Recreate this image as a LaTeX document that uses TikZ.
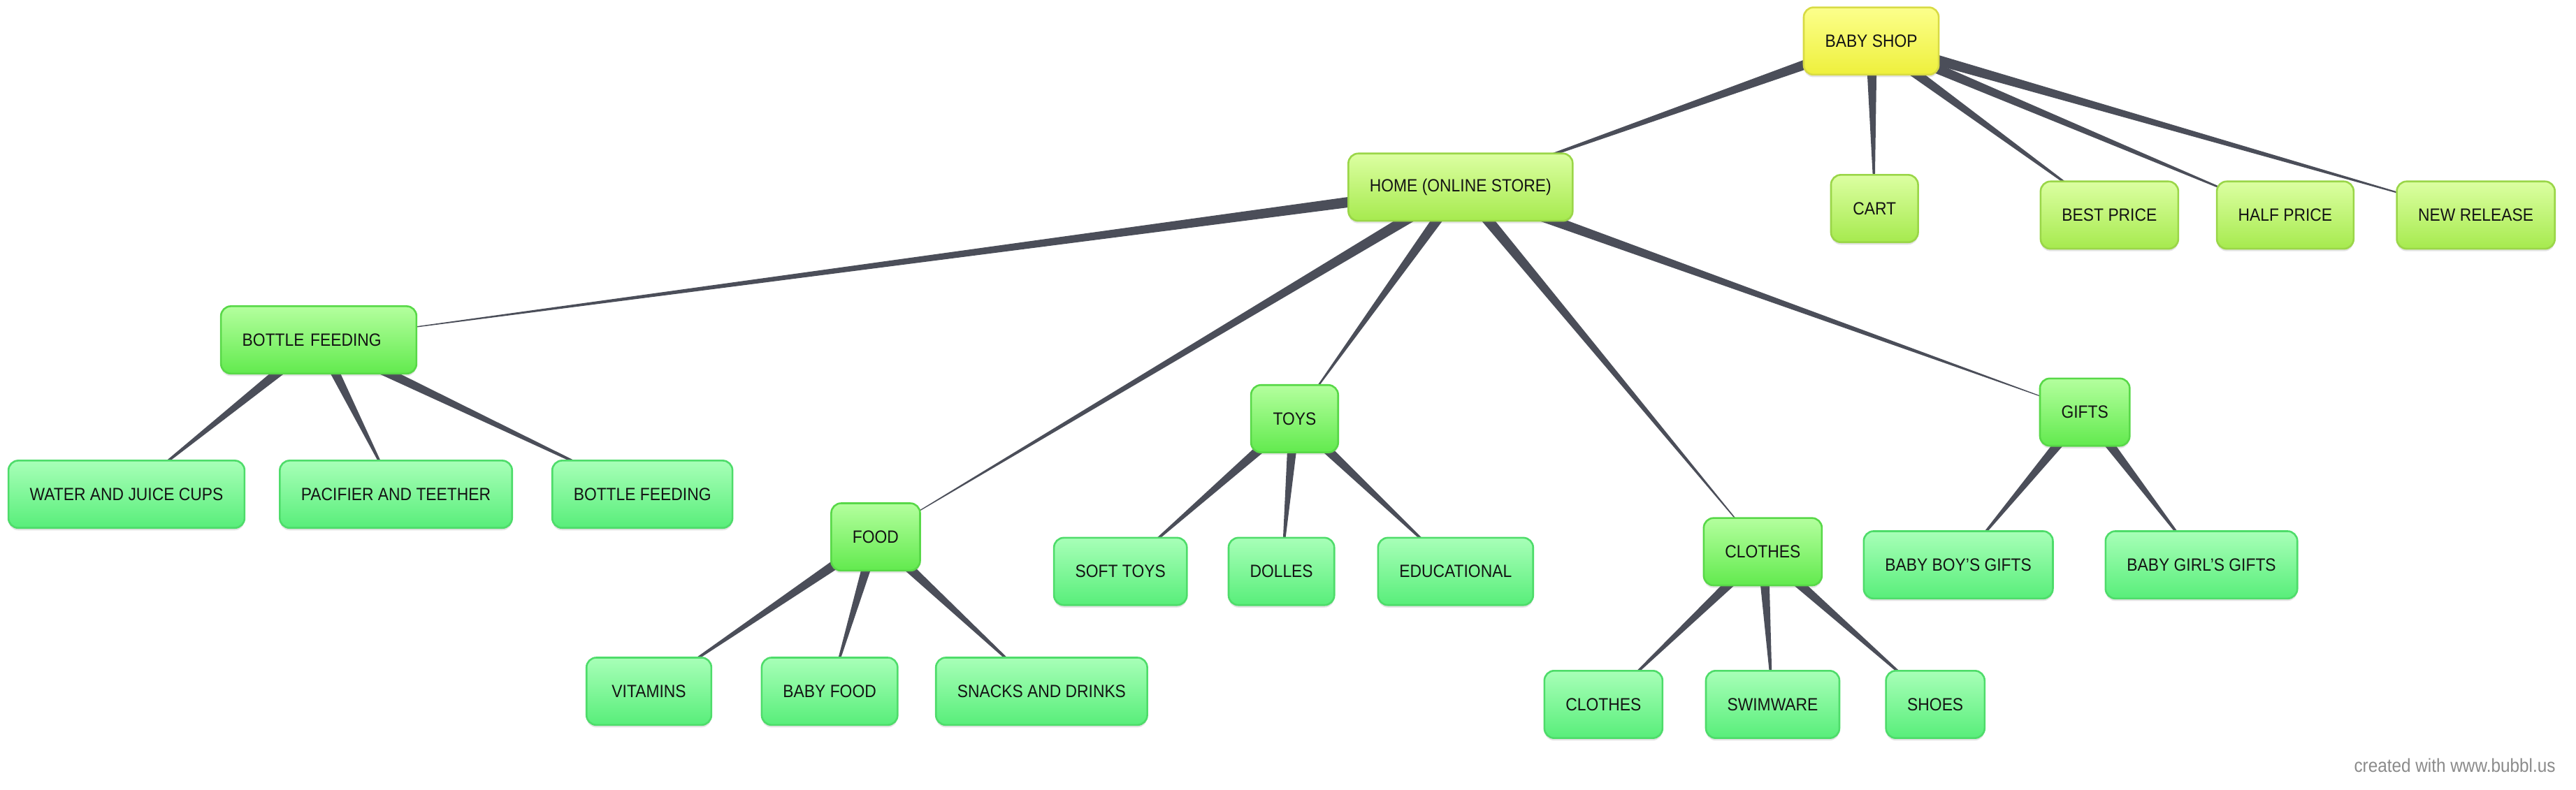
\documentclass[tikz,border=0pt]{standalone}
\usepackage{fontspec}
\setmainfont{Liberation Sans}[FakeStretch=0.9]
\usetikzlibrary{calc,backgrounds,shadows}

\definecolor{jauneHaut}{HTML}{FCFF8C}
\definecolor{jauneBas}{HTML}{EEF03C}
\definecolor{jauneBord}{HTML}{D8DB44}
\definecolor{citronHaut}{HTML}{DCFFA2}
\definecolor{citronBas}{HTML}{A6EA4E}
\definecolor{citronBord}{HTML}{9AD648}
\definecolor{vertHaut}{HTML}{B4FF9E}
\definecolor{vertBas}{HTML}{62EA4E}
\definecolor{vertBord}{HTML}{58D848}
\definecolor{mentheHaut}{HTML}{A8FFB8}
\definecolor{mentheBas}{HTML}{58EE7A}
\definecolor{mentheBord}{HTML}{4EDC6A}
\definecolor{ardoise}{HTML}{4B4E59}
\definecolor{signature}{HTML}{8A8A8A}

\begin{document}
\begin{tikzpicture}[x=1pt, y=-1pt]
	\tikzset{boite/.style={rectangle, rounded corners=6pt, line width=1.1pt, minimum height=41pt, minimum width=53pt, inner xsep=13pt, font=\fontsize{10.8}{12}\selectfont, text=black!92, drop shadow={shadow xshift=0pt, shadow yshift=-1.5pt, opacity=0.18, fill=black!60}},
		racine/.style={boite, draw=jauneBord, top color=jauneHaut, bottom color=jauneBas},
		menu/.style={boite, draw=citronBord, top color=citronHaut, bottom color=citronBas},
		rubrique/.style={boite, draw=vertBord, top color=vertHaut, bottom color=vertBas},
		feuille/.style={boite, draw=mentheBord, top color=mentheHaut, bottom color=mentheBas},
		lien/.style={fill=ardoise, to path={($(\tikztostart.center)!3.5pt!90:(\tikztotarget.center)$) -- ($(\tikztostart.center)!3.5pt!-90:(\tikztotarget.center)$) -- (\tikztotarget.center) -- cycle}}};

	\useasboundingbox (0,0) rectangle (1568,481);

	\node[racine]   (bs)  at (1139,  25) {BABY SHOP};
	\node[menu]     (ho)  at ( 889, 114) {HOME (ONLINE STORE)};
	\node[menu]     (ca)  at (1141, 127) {CART};
	\node[menu]     (bp)  at (1284, 131) {BEST PRICE};
	\node[menu]     (hp)  at (1391, 131) {HALF PRICE};
	\node[menu]     (nr)  at (1507, 131) {NEW RELEASE};

	\node[rubrique, text width=93pt, align=left] (bf)  at ( 194, 207) {BOTTLE FEEDING};
	\node[feuille]  (wj)  at (  77, 301) {WATER AND JUICE CUPS};
	\node[feuille]  (pt)  at ( 241, 301) {PACIFIER AND TEETHER};
	\node[feuille]  (bf2) at ( 391, 301) {BOTTLE FEEDING};

	\node[rubrique] (fo)  at ( 533, 327) {FOOD};
	\node[feuille, minimum width=76pt] (vi)  at ( 395, 421) {VITAMINS};
	\node[feuille]  (bb)  at ( 505, 421) {BABY FOOD};
	\node[feuille]  (sd)  at ( 634, 421) {SNACKS AND DRINKS};

	\node[rubrique] (to)  at ( 788, 255) {TOYS};
	\node[feuille]  (st)  at ( 682, 348) {SOFT TOYS};
	\node[feuille]  (dl)  at ( 780, 348) {DOLLES};
	\node[feuille]  (ed)  at ( 886, 348) {EDUCATIONAL};

	\node[rubrique] (cl)  at (1073, 336) {CLOTHES};
	\node[feuille]  (cl2) at ( 976, 429) {CLOTHES};
	\node[feuille]  (sw)  at (1079, 429) {SWIMWARE};
	\node[feuille]  (sh)  at (1178, 429) {SHOES};

	\node[rubrique] (gi)  at (1269, 251) {GIFTS};
	\node[feuille]  (bg)  at (1192, 344) {BABY BOY'S GIFTS};
	\node[feuille]  (gg)  at (1340, 344) {BABY GIRL'S GIFTS};

	\node[anchor=east, text=signature, font=\fontsize{11.5}{12}\selectfont] (credit) at (1559, 466) {created with www.bubbl.us};

	\begin{pgfonlayer}{background}
		\fill[lien] (bs) to (ho);
		\fill[lien] (bs) to (ca);
		\fill[lien] (bs) to (bp);
		\fill[lien] (bs) to (hp);
		\fill[lien] (bs) to (nr);

		\fill[lien] (ho) to (bf);
		\fill[lien] (ho) to (fo);
		\fill[lien] (ho) to (to);
		\fill[lien] (ho) to (cl);
		\fill[lien] (ho) to (gi);

		\fill[lien] (bf) to (wj);
		\fill[lien] (bf) to (pt);
		\fill[lien] (bf) to (bf2);
		\fill[lien] (fo) to (vi);
		\fill[lien] (fo) to (bb);
		\fill[lien] (fo) to (sd);
		\fill[lien] (to) to (st);
		\fill[lien] (to) to (dl);
		\fill[lien] (to) to (ed);
		\fill[lien] (cl) to (cl2);
		\fill[lien] (cl) to (sw);
		\fill[lien] (cl) to (sh);
		\fill[lien] (gi) to (bg);
		\fill[lien] (gi) to (gg);
	\end{pgfonlayer}
\end{tikzpicture}
\end{document}
